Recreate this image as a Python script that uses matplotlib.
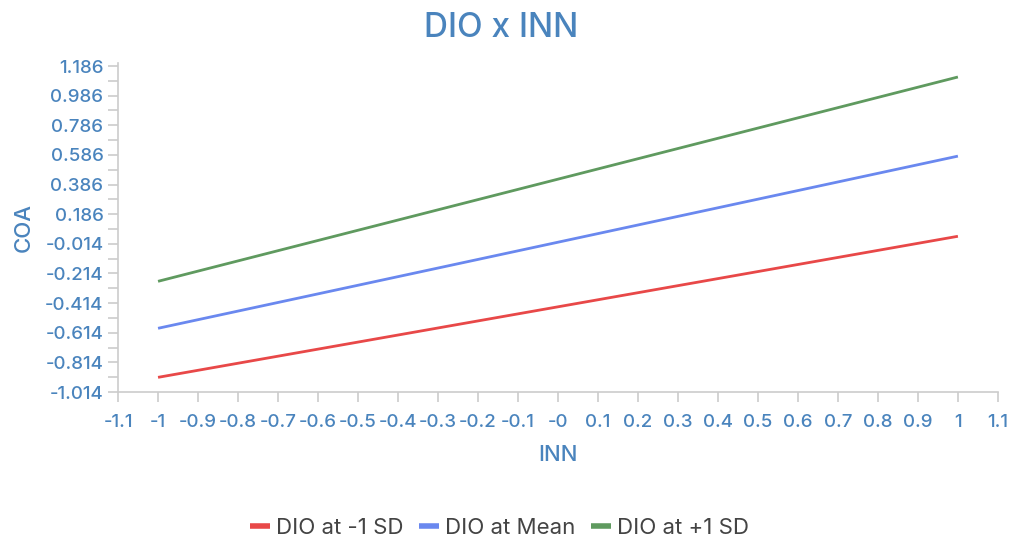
import numpy as np
import matplotlib.pyplot as plt
from matplotlib.ticker import FixedLocator

# --- data ---
inn = [-1, 1]
coa_low = [-0.915, 0.037]    # DIO at -1 SD
coa_mean = [-0.584, 0.578]   # DIO at Mean
coa_high = [-0.267, 1.112]   # DIO at +1 SD

series_names = ["DIO at -1 SD", "DIO at Mean", "DIO at +1 SD"]
series_colors = ["#e84848", "#6a88ef", "#5f9a5f"]

x_ticks = [-1.1, -1.0, -0.9, -0.8, -0.7, -0.6, -0.5, -0.4, -0.3, -0.2, -0.1,
           0.0, 0.1, 0.2, 0.3, 0.4, 0.5, 0.6, 0.7, 0.8, 0.9, 1.0, 1.1]
x_labels = ["-1.1", "-1", "-0.9", "-0.8", "-0.7", "-0.6", "-0.5", "-0.4", "-0.3",
            "-0.2", "-0.1", "-0", "0.1", "0.2", "0.3", "0.4", "0.5", "0.6", "0.7",
            "0.8", "0.9", "1", "1.1"]
y_labels = ["-1.014", "-0.814", "-0.614", "-0.414", "-0.214", "-0.014",
            "0.186", "0.386", "0.586", "0.786", "0.986", "1.186"]

title_blue = "#4a84bd"
axis_grey = "#cccccc"

plt.rcParams["font.family"] = ["Inter", "DejaVu Sans"]

fig = plt.figure(figsize=(10.09, 5.39), dpi=100)
ax = fig.add_axes([0.117, 0.2727, 0.872, 0.6103])

for ys, name, col in zip([coa_low, coa_mean, coa_high], series_names, series_colors):
    ax.plot(inn, ys, color=col, lw=2, label=name, solid_capstyle="butt")

ax.set_xlim(-1.1, 1.1)
ax.set_ylim(-1.014, 1.206)

ax.set_xticks(x_ticks)
ax.set_xticklabels(x_labels, fontweight="medium")
y_major = [float(v) for v in y_labels]
ax.set_yticks(y_major)
ax.set_yticklabels(y_labels, fontweight="medium")
ax.yaxis.set_minor_locator(FixedLocator([v + 0.1 for v in y_major[:-1]]))

for side in ["top", "right"]:
    ax.spines[side].set_visible(False)
for side in ["left", "bottom"]:
    ax.spines[side].set_color(axis_grey)
    ax.spines[side].set_linewidth(1.2)

ax.tick_params(axis="both", which="both", direction="out", length=7.5, width=1.2,
               color=axis_grey, labelcolor=title_blue, labelsize=13.5, pad=3)
ax.tick_params(axis="x", pad=8.5)

ax.set_xlabel("INN", color=title_blue, fontsize=16, fontweight="medium", labelpad=10)
ax.set_ylabel("COA", color=title_blue, fontsize=16, fontweight="medium", labelpad=8.5)
fig.suptitle("DIO x INN", color=title_blue, fontsize=24, fontweight="medium",
             x=0.497, y=0.977)

leg = fig.legend(loc="center", bbox_to_anchor=(0.495, 0.02), ncol=3, frameon=False,
                 fontsize=16, handlelength=0.9, handletextpad=0.27, columnspacing=0.68)
for h in leg.legend_handles:
    h.set_linewidth(4)
for t in leg.get_texts():
    t.set_color("#444444")

fig.savefig("out.png", dpi=100)
